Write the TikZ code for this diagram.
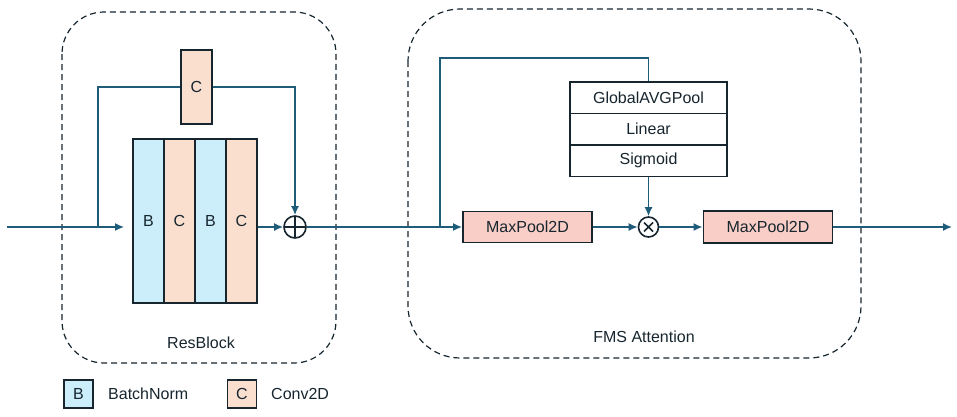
\documentclass[tikz,border=0pt]{standalone}
\usepackage{fontspec}
\setmainfont{Liberation Sans}
\usetikzlibrary{arrows.meta}

\definecolor{blu}{HTML}{1F5C7A}
\definecolor{bordo}{HTML}{16252E}
\definecolor{bn}{HTML}{CCEEFA}
\definecolor{conv}{HTML}{FADFCF}
\definecolor{pool}{HTML}{F9CEC6}

\tikzset{
    testo/.style={inner sep=0pt, text=bordo, font=\fontsize{16}{18}\selectfont},
    blocco/.style={testo, draw=bordo, line width=1.8pt},
    linea/.style={draw=blu, line width=1.6pt},
    freccia/.style={linea, -{Latex[length=9pt,width=8pt]}},
    contorno/.style={draw=bordo, line width=1.2pt, dash pattern=on 6pt off 4pt},
    somma/.style={circle, draw=bordo, line width=1.6pt, minimum size=22pt, inner sep=0pt,
        path picture={\draw[bordo, line width=1.6pt] (path picture bounding box.north) -- (path picture bounding box.south)
            (path picture bounding box.west) -- (path picture bounding box.east);}},
    prodotto/.style={circle, draw=bordo, line width=1.6pt, minimum size=20pt, inner sep=0pt,
        path picture={\draw[bordo, line width=1.6pt]
            ([shift={(-4.5pt,-4.5pt)}]path picture bounding box.center) -- ([shift={(4.5pt,4.5pt)}]path picture bounding box.center)
            ([shift={(-4.5pt,4.5pt)}]path picture bounding box.center) -- ([shift={(4.5pt,-4.5pt)}]path picture bounding box.center);}},
}

\begin{document}
\begin{tikzpicture}[x=1pt, y=-1pt]
    \useasboundingbox (0,0) rectangle (957,416);

    % Contorni tratteggiati dei due moduli
    \draw[contorno, rounded corners=42pt] (62,12) rectangle (336,363);
    \draw[contorno, rounded corners=52pt] (408,9) rectangle (861,358);
    \node[testo] (lres) at (201,343) {ResBlock};
    \node[testo] (lfms) at (644,337) {FMS Attention};

    % Colonne del ResBlock: B e C alternati
    \foreach \lab/\col [count=\i] in {B/bn, C/conv, B/bn, C/conv} {
        \node[blocco, fill=\col, minimum width=31pt, minimum height=164pt] (col\i) at (117.5+31*\i, 221) {\lab};
    }
    \node[blocco, fill=conv, minimum width=31pt, minimum height=74pt] (cskip) at (196.5,87) {C}; % conv sulla scorciatoia
    \node[somma] (add) at (295,227) {};

    % Blocchi dell'attenzione FMS
    \foreach \nome/\txt [count=\i] in {gap/GlobalAVGPool, lin/Linear, sig/Sigmoid} {
        \node[blocco, fill=white, minimum width=157pt, minimum height=31.5pt] (\nome) at (648.5, 66.25+31.5*\i) {\txt};
    }
    \node[blocco, fill=pool, minimum width=129pt, minimum height=31pt] (mp1) at (527.5,227) {MaxPool2D};
    \node[prodotto] (mul) at (648.5,227) {};
    \node[blocco, fill=pool, minimum width=129pt, minimum height=32pt] (mp2) at (768,227) {MaxPool2D};

    % Punti di ingresso, uscita e diramazione
    \coordinate (in) at (7,227);
    \coordinate (out) at (952,227);
    \coordinate (ramoR) at (98,227);
    \coordinate (ramoF) at (440,227);
    \coordinate (angolo) at (440,58);

    % Collegamenti
    \draw[freccia, shorten >=8pt] (in) -- (col1.west |- in);
    \draw[linea] (ramoR) |- (cskip.west);
    \draw[freccia] (cskip.east) -| (add.north);
    \draw[freccia] (col4.east |- add) -- (add.west);
    \draw[freccia] (add.east) -- (mp1.west);
    \draw[linea] (ramoF) -- (angolo) -| (gap.north);
    \draw[freccia] (sig.south) -- (mul.north);
    \draw[freccia] (mp1.east) -- (mul.west);
    \draw[freccia] (mul.east) -- (mp2.west);
    \draw[freccia] (mp2.east) -- (out);

    % Legenda
    \node[blocco, fill=bn, minimum width=29pt, minimum height=28pt] (legB) at (78.5,394) {B};
    \node[testo, anchor=west] (legBt) at (108,394) {BatchNorm};
    \node[blocco, fill=conv, minimum width=29pt, minimum height=28pt] (legC) at (242,394) {C};
    \node[testo, anchor=west] (legCt) at (271,394) {Conv2D};
\end{tikzpicture}
\end{document}
